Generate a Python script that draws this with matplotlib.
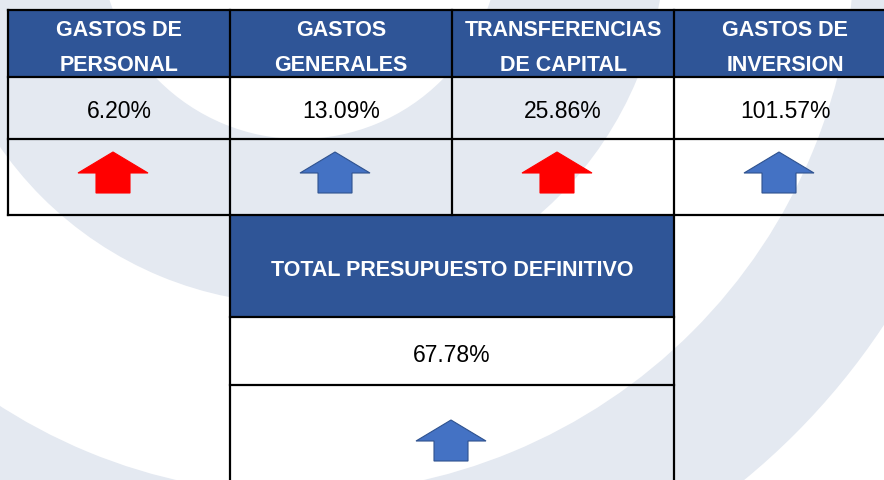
import matplotlib
matplotlib.use("Agg")
import matplotlib.pyplot as plt
from matplotlib.patches import Rectangle, Polygon, Wedge

# data
categories = [["GASTOS DE", "PERSONAL"],
              ["GASTOS", "GENERALES"],
              ["TRANSFERENCIAS", "DE CAPITAL"],
              ["GASTOS DE", "INVERSION"]]
percentages = [6.20, 13.09, 25.86, 101.57]
arrow_colors = ["#FF0000", "#4472C4", "#FF0000", "#4472C4"]
total_label = "TOTAL PRESUPUESTO DEFINITIVO"
total_percentage = 67.78
total_color = "#4472C4"

HEADER = "#2F5597"
WATERMARK = "#E4E9F1"
HEAD_FONT = ["Liberation Sans", "DejaVu Sans"]
VAL_FONT = ["Liberation Sans", "DejaVu Sans"]

fig = plt.figure(figsize=(8.84, 4.81), dpi=100)
ax = fig.add_axes([0, 0, 1, 1])
ax.set_xlim(0, 884)
ax.set_ylim(481, 0)
ax.axis("off")

# faint logo swooshes in the background
ax.add_patch(Wedge((300, -60), 365, 0, 360, width=165, color=WATERMARK, lw=0, zorder=0))
ax.add_patch(Wedge((300, -60), 700, 0, 360, width=145, color=WATERMARK, lw=0, zorder=0))


def draw_arrow(cx, tip, color):
    pts = [(cx, tip), (cx + 35, tip + 21), (cx + 17, tip + 21), (cx + 17, tip + 41),
           (cx - 17, tip + 41), (cx - 17, tip + 21), (cx - 35, tip + 21)]
    edge = "#2F528F" if color != "#FF0000" else color
    ax.add_patch(Polygon(pts, closed=True, facecolor=color, edgecolor=edge, lw=0.8, zorder=3))


# top table
x0, col_w = 8, 222
rows = [11, 78, 140, 216]
lw = 1.6
for i, (lines, pct, col) in enumerate(zip(categories, percentages, arrow_colors)):
    left = x0 + i * col_w
    cx = left + col_w / 2
    ax.add_patch(Rectangle((left, rows[0]), col_w, rows[1] - rows[0], facecolor=HEADER, lw=0, zorder=1))
    ax.text(cx, 36, lines[0], color="white", fontsize=15.5, fontweight="bold",
            family=HEAD_FONT, ha="center", va="baseline", zorder=4)
    ax.text(cx, 71, lines[1], color="white", fontsize=15.5, fontweight="bold",
            family=HEAD_FONT, ha="center", va="baseline", zorder=4)
    ax.text(cx, 118, f"{pct:.2f}%", color="black", fontsize=16.5,
            family=VAL_FONT, ha="center", va="baseline", zorder=4)
    draw_arrow(cx - 6, 153, col)
    ax.plot([left, left], [rows[0], rows[-1]], color="black", lw=lw, zorder=5)
ax.plot([x0 + 4 * col_w] * 2, [rows[0], rows[-1]], color="black", lw=lw, zorder=5)
for y in rows:
    ax.plot([x0, x0 + 4 * col_w], [y, y], color="black", lw=lw, zorder=5)

# total table
tl, tr = 230, 674
tc = (tl + tr) / 2
ax.add_patch(Rectangle((tl, 216), tr - tl, 102, facecolor=HEADER, lw=0, zorder=1))
ax.text(tc, 276, total_label, color="white", fontsize=15.5, fontweight="bold",
        family=HEAD_FONT, ha="center", va="baseline", zorder=4)
ax.text(tc, 362, f"{total_percentage:.2f}%", color="black", fontsize=16.5,
        family=VAL_FONT, ha="center", va="baseline", zorder=4)
draw_arrow(tc - 1, 421, total_color)
for y in [318, 386]:
    ax.plot([tl, tr], [y, y], color="black", lw=lw, zorder=5)
for x in [tl, tr]:
    ax.plot([x, x], [216, 485], color="black", lw=lw, zorder=5)

fig.savefig("out.png", dpi=100)
